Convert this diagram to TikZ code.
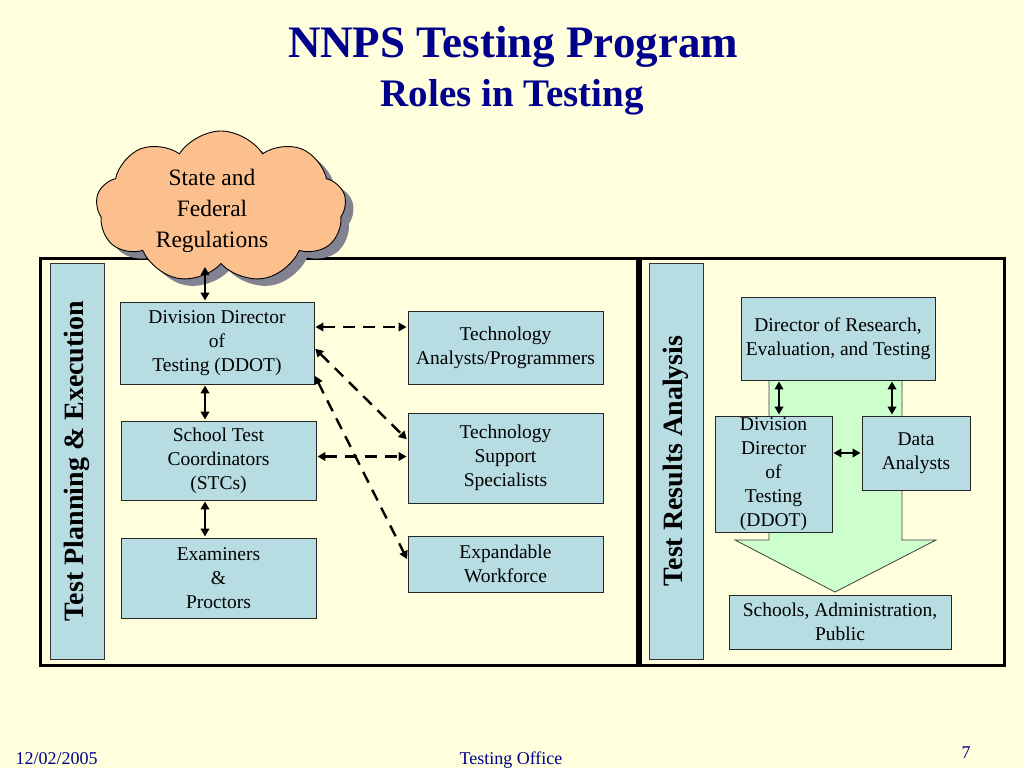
\documentclass[tikz,border=0pt]{standalone}
\usepackage{fontspec}
\setmainfont{Liberation Serif}
\usetikzlibrary{arrows.meta,shapes.symbols}
\definecolor{bg}{RGB}{255,255,221}
\definecolor{boxblue}{RGB}{183,221,226}
\definecolor{cloudfill}{RGB}{251,192,142}
\definecolor{arrowgreen}{RGB}{204,255,204}
\definecolor{titleblue}{RGB}{0,0,140}
\definecolor{shadowgray}{RGB}{130,130,145}
\begin{document}
\begin{tikzpicture}[x=1pt,y=-1pt,
 box/.style={draw=black!85,line width=0.9pt,fill=boxblue,align=center,inner sep=0pt,font=\fontsize{19.5}{24}\selectfont},
 bar/.style={draw=black!80,line width=0.8pt,fill=boxblue,inner sep=0pt},
 bartext/.style={rotate=90,font=\fontsize{28}{34}\selectfont\bfseries},
 frame/.style={draw=black,line width=3pt},
 solidarr/.style={{Triangle[length=8pt,width=8.5pt]}-{Triangle[length=8pt,width=8.5pt]},line width=2.6pt,shorten <=1pt,shorten >=1pt},
 dasharr/.style={solidarr,line width=2.4pt,dash pattern=on 12pt off 8pt},
 cloudshape/.style={cloud,cloud puffs=9,cloud puff arc=115,aspect=1.65,minimum width=250pt,minimum height=152pt,inner sep=0pt},
 footer/.style={text=titleblue,font=\fontsize{18}{20}\selectfont,anchor=base},
]
\fill[bg] (0,0) rectangle (1024,768);
\useasboundingbox (0,0) rectangle (1024,768);

% titles
\node[text=titleblue,font=\fontsize{45}{48}\selectfont\bfseries,anchor=base] (title) at (513,58) {NNPS Testing Program};
\node[text=titleblue,font=\fontsize{39}{42}\selectfont\bfseries,anchor=base] (subtitle) at (512,106) {Roles in Testing};

% frames
\draw[frame] (40,258) rectangle (637,665);
\draw[frame] (640,258) rectangle (1004,665);

% side bars
\node[bar,minimum width=54pt,minimum height=396pt] (lbar) at (77,461) {};
\node[bartext] (lbartext) at (lbar) {Test Planning \& Execution};
\node[bar,minimum width=54pt,minimum height=396pt] (rbar) at (676,461) {};
\node[bartext] (rbartext) at (rbar) {Test Results Analysis};

% cloud
\node[cloudshape,fill=shadowgray] (cloudshadow) at (229,214) {};
\node[cloudshape,fill=cloudfill,draw=black,line width=0.9pt] (cloud) at (221,207) {};
\node[align=center,font=\fontsize{23.5}{31}\selectfont] (cloudtext) at (212,211) {State and\\Federal\\Regulations};

% left boxes
\node[box,minimum width=194pt,minimum height=82pt] (ddot) at (217,343) {Division Director\\of\\Testing (DDOT)};
\node[box,minimum width=195pt,minimum height=79pt] (stc) at (218.5,460.5) {School Test\\Coordinators\\(STCs)};
\node[box,minimum width=195pt,minimum height=80pt] (exam) at (218.5,578) {Examiners\\\&\\Proctors};
\node[box,minimum width=195pt,minimum height=73pt] (techa) at (505.5,347.5) {Technology\\Analysts/Programmers};
\node[box,minimum width=195pt,minimum height=90pt] (techs) at (505.5,458) {Technology\\Support\\Specialists};
\node[box,minimum width=195pt,minimum height=56pt] (expw) at (505.5,564) {Expandable\\Workforce};

% green arrow
\draw[fill=arrowgreen,draw=black!75,line width=0.8pt] (769,340) -- (769,540) -- (735,540) -- (835,592) -- (936,540) -- (902,540) -- (902,340) -- cycle;

% right boxes
\node[box,minimum width=194pt,minimum height=83pt] (dirrt) at (838,338.5) {Director of Research,\\Evaluation, and Testing};
\node[box,minimum width=117pt,minimum height=116pt] (ddotr) at (773.5,474) {Division\\Director\\of\\Testing\\(DDOT)};
\node[box,minimum width=108pt,minimum height=74pt] (data) at (916,453) {Data\\Analysts};
\node[box,minimum width=222pt,minimum height=54pt] (pub) at (840,622) {Schools, Administration,\\Public};

% connectors left
\coordinate (cloudfoot) at (205,266);
\draw[solidarr] (cloudfoot) -- (cloudfoot |- ddot.north);
\draw[solidarr] (ddot.south -| cloudfoot) -- (stc.north -| cloudfoot);
\draw[solidarr] (stc.south -| cloudfoot) -- (exam.north -| cloudfoot);
\draw[dasharr] ([yshift=16pt]ddot.east) -- ([yshift=16pt]ddot.east -| techa.west);
\draw[dasharr] ([yshift=-5pt]ddot.east) -- ([yshift=18pt]techs.west);
\draw[dasharr] ([yshift=-32pt]ddot.east) -- ([yshift=4pt]expw.west);
\draw[dasharr] ([yshift=4pt]stc.east) -- ([yshift=4pt]stc.east -| techs.west);

% connectors right
\draw[solidarr] ([xshift=-59pt]dirrt.south) -- ([xshift=-59pt]dirrt.south |- ddotr.north);
\draw[solidarr] ([xshift=54pt]dirrt.south) -- ([xshift=54pt]dirrt.south |- data.north);
\draw[solidarr] (data.west -| ddotr.east) -- (data.west);

% footer
\node[footer,anchor=base west] (date) at (12,764) {12/02/2005};
\node[footer] (office) at (511,764) {Testing Office};
\node[footer] (page) at (966,758) {7};
\end{tikzpicture}
\end{document}
